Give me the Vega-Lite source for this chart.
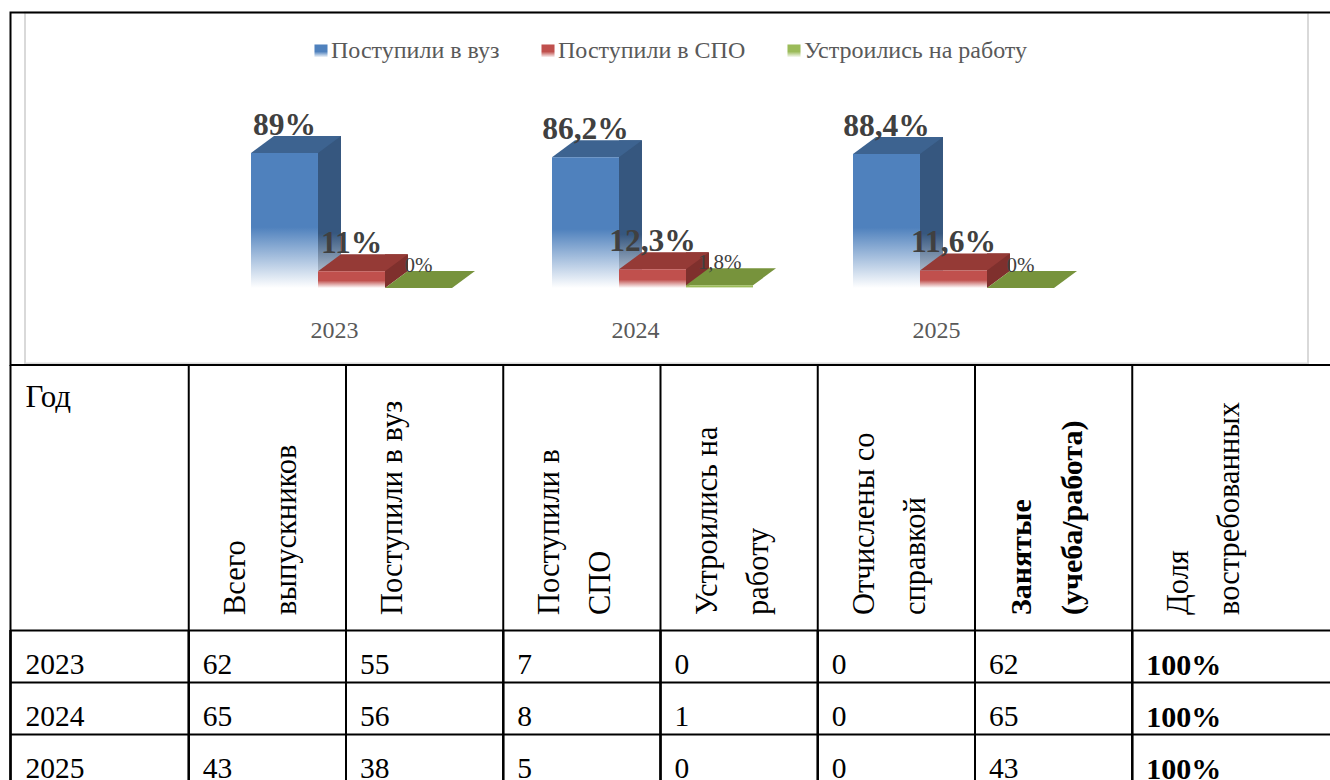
{
"$schema":"https://vega.github.io/schema/vega-lite/v6.json",
"background":"white","padding":0,"spacing":0,"bounds":"flush",
"config":{"view":{"stroke":null},"font":"Liberation Serif"},
"datasets":{
"chart":[
{"year":"2023","series":"Поступили в вуз","value":89,"label":"89%"},
{"year":"2023","series":"Поступили в СПО","value":11,"label":"11%"},
{"year":"2023","series":"Устроились на работу","value":0,"label":"0%"},
{"year":"2024","series":"Поступили в вуз","value":86.2,"label":"86,2%"},
{"year":"2024","series":"Поступили в СПО","value":12.3,"label":"12,3%"},
{"year":"2024","series":"Устроились на работу","value":1.8,"label":"1,8%"},
{"year":"2025","series":"Поступили в вуз","value":88.4,"label":"88,4%"},
{"year":"2025","series":"Поступили в СПО","value":11.6,"label":"11,6%"},
{"year":"2025","series":"Устроились на работу","value":0,"label":"0%"}],
"frame":[{"a":0,"b":1}],
"hlines":[{"row":"2023","a":0,"b":1},{"row":"2024","a":0,"b":1},{"row":"2025","a":0,"b":1}],
"head":[
{"col":"Год","label":"Год"},
{"col":"Всего выпускников","label":"Всего\nвыпускников"},
{"col":"Поступили в вуз","label":"Поступили в вуз"},
{"col":"Поступили в СПО","label":"Поступили в\nСПО"},
{"col":"Устроились на работу","label":"Устроились на\nработу"},
{"col":"Отчислены со справкой","label":"Отчислены со\nсправкой"},
{"col":"Занятые (учеба/работа)","label":"Занятые\n(учеба/работа)"},
{"col":"Доля востребованных","label":"Доля\nвостребованных"}],
"rows":[
{"row":"2023","col":"Год","v":"2023"},{"row":"2023","col":"Всего выпускников","v":"62"},{"row":"2023","col":"Поступили в вуз","v":"55"},{"row":"2023","col":"Поступили в СПО","v":"7"},{"row":"2023","col":"Устроились на работу","v":"0"},{"row":"2023","col":"Отчислены со справкой","v":"0"},{"row":"2023","col":"Занятые (учеба/работа)","v":"62"},{"row":"2023","col":"Доля востребованных","v":"100%"},
{"row":"2024","col":"Год","v":"2024"},{"row":"2024","col":"Всего выпускников","v":"65"},{"row":"2024","col":"Поступили в вуз","v":"56"},{"row":"2024","col":"Поступили в СПО","v":"8"},{"row":"2024","col":"Устроились на работу","v":"1"},{"row":"2024","col":"Отчислены со справкой","v":"0"},{"row":"2024","col":"Занятые (учеба/работа)","v":"65"},{"row":"2024","col":"Доля востребованных","v":"100%"},
{"row":"2025","col":"Год","v":"2025"},{"row":"2025","col":"Всего выпускников","v":"43"},{"row":"2025","col":"Поступили в вуз","v":"38"},{"row":"2025","col":"Поступили в СПО","v":"5"},{"row":"2025","col":"Устроились на работу","v":"0"},{"row":"2025","col":"Отчислены со справкой","v":"0"},{"row":"2025","col":"Занятые (учеба/работа)","v":"43"},{"row":"2025","col":"Доля востребованных","v":"100%"}]
},
"vconcat":[
{"width":1330,"height":365,
"resolve":{"scale":{"x":"independent","y":"independent"}},
"layer":[
{"data":{"name":"frame"},"mark":{"type":"rect","fillOpacity":0,"stroke":"#d9d9d9","strokeWidth":2},
"encoding":{"x":{"field":"a","type":"quantitative","axis":null,"scale":{"domain":[0,1],"range":[25,1308]}},"x2":{"field":"b"},
"y":{"field":"a","type":"quantitative","axis":null,"scale":{"domain":[0,1],"range":[363.5,12.5]}},"y2":{"field":"b"}}},
{"data":{"name":"frame"},"mark":{"type":"rect","fillOpacity":0,"stroke":"#000000","strokeWidth":2},
"encoding":{"x":{"field":"a","type":"quantitative","axis":null,"scale":{"domain":[0,1],"range":[10.5,1350]}},"x2":{"field":"b"},
"y":{"field":"a","type":"quantitative","axis":null,"scale":{"domain":[0,1],"range":[365,12.5]}},"y2":{"field":"b"}}},
{"data":{"name":"chart"},
"resolve":{"scale":{"xOffset":"independent"}},
"encoding":{
"x":{"field":"year","type":"nominal","axis":null,"scale":{"type":"band","domain":["2023","2024","2025"],"range":[201,1104],"paddingInner":0.3322,"paddingOuter":0.1661}},
"y":{"field":"value","type":"quantitative","axis":null,"scale":{"domain":[0,100],"range":[288,136.3]}}},
"layer":[
{"transform":[{"filter":"datum.series !== 'Устроились на работу'"}],
"mark":{"type":"bar","width":23,"yOffset":-17,
"fill":{"expr":"datum.series === 'Поступили в вуз' ? {gradient:'linear',x1:0,y1:0,x2:0,y2:1,stops:[{offset:0,color:'#36577f'},{offset:0.72,color:'#36577f'},{offset:1,color:'#aab8c9'}]} : '#7f302d'"}},
"encoding":{"xOffset":{"field":"series","type":"nominal","scale":{"type":"band","domain":["Поступили в вуз","Поступили в СПО","Устроились на работу"],"range":[45,246],"paddingInner":0,"paddingOuter":0}}}},
{"transform":[{"filter":"datum.series === 'Поступили в СПО'"}],
"mark":{"type":"point","filled":true,"opacity":1,"size":4,"shape":"M33.5 0L56.5 -17L33.5 -17Z","fill":"#7f302d"},
"encoding":{"y":{"datum":0,"type":"quantitative"},"xOffset":{"field":"series","type":"nominal","scale":{"type":"band","domain":["Поступили в вуз","Поступили в СПО","Устроились на работу"],"paddingInner":0,"paddingOuter":0}}}},
{"mark":{"type":"point","filled":true,"opacity":1,"size":4,"shape":"M-33.5 0L33.5 0L56.5 -17L-10.5 -17Z",
"fill":{"expr":"datum.series === 'Поступили в вуз' ? '#3d6390' : datum.series === 'Поступили в СПО' ? '#953a36' : '#77933c'"}},
"encoding":{"xOffset":{"field":"series","type":"nominal","scale":{"type":"band","domain":["Поступили в вуз","Поступили в СПО","Устроились на работу"],"paddingInner":0,"paddingOuter":0}}}},
{"mark":{"type":"bar","strokeWidth":0,
"fill":{"expr":"(datum.series || datum.label) === 'Поступили в вуз' ? {gradient:'linear',x1:0,y1:0,x2:0,y2:1,stops:[{offset:0,color:'#4f81bd'},{offset:0.55,color:'#4f81bd'},{offset:1,color:'#ffffff'}]} : (datum.series || datum.label) === 'Поступили в СПО' ? {gradient:'linear',x1:0,y1:0,x2:0,y2:1,stops:[{offset:0,color:'#c0504d'},{offset:0.55,color:'#c0504d'},{offset:1,color:'#ffffff'}]} : {gradient:'linear',x1:0,y1:0,x2:0,y2:1,stops:[{offset:0,color:'#9bbb59'},{offset:0.55,color:'#9bbb59'},{offset:1,color:'#ffffff'}]}"}},
"encoding":{"xOffset":{"field":"series","type":"nominal","scale":{"type":"band","domain":["Поступили в вуз","Поступили в СПО","Устроились на работу"],"paddingInner":0,"paddingOuter":0}},
"stroke":{"field":"series","type":"nominal",
"scale":{"domain":["Поступили в вуз","Поступили в СПО","Устроились на работу"],"range":["#4f81bd","#c0504d","#9bbb59"]},
"legend":{"title":null,"orient":"none","legendX":309,"legendY":39,"direction":"horizontal","columns":3,"symbolType":"square","symbolSize":170,"symbolStrokeWidth":0,"labelFont":"Liberation Serif","labelFontSize":24,"labelColor":"#595959","labelOffset":-2,"columnPadding":36,"labelLimit":400}}}},
{"transform":[{"filter":"datum.series !== 'Устроились на работу'"}],
"mark":{"type":"text","font":"Liberation Serif","fontSize":31.5,"fontWeight":"bold","color":"#404040","dy":-18,"baseline":"alphabetic","align":"center"},
"encoding":{"xOffset":{"field":"series","type":"nominal","scale":{"type":"band","domain":["Поступили в вуз","Поступили в СПО","Устроились на работу"],"paddingInner":0,"paddingOuter":0}},"text":{"field":"label"}}},
{"transform":[{"filter":"datum.series === 'Устроились на работу'"}],
"mark":{"type":"text","font":"Liberation Serif","fontSize":21,"color":"#404040","dy":-16.5,"baseline":"alphabetic","align":"center"},
"encoding":{"xOffset":{"field":"series","type":"nominal","scale":{"type":"band","domain":["Поступили в вуз","Поступили в СПО","Устроились на работу"],"paddingInner":0,"paddingOuter":0}},"text":{"field":"label"}}},
{"transform":[{"filter":"datum.series === 'Поступили в вуз'"}],
"mark":{"type":"text","font":"Liberation Serif","fontSize":24,"color":"#595959","dx":-17,"dy":50,"baseline":"alphabetic","align":"center"},
"encoding":{"y":{"datum":0,"type":"quantitative"},"text":{"field":"year"}}}
]}
]},
{"width":1330,"height":265,"data":{"name":"head"},
"encoding":{"x":{"field":"col","type":"nominal","bandPosition":0,"axis":null,"sort":null,"scale":{"type":"band","domain":["Год","Всего выпускников","Поступили в вуз","Поступили в СПО","Устроились на работу","Отчислены со справкой","Занятые (учеба/работа)","Доля востребованных"],"range":[31.5,1289.5],"padding":0}}},
"layer":[
{"transform":[{"filter":"datum.col !== 'Год'"}],"mark":{"type":"rule","color":"#000000","strokeWidth":2}},
{"transform":[{"filter":"datum.col === 'Год'"}],"mark":{"type":"rule","color":"#000000","strokeWidth":2,"xOffset":-21}},
{"transform":[{"filter":"datum.col === 'Год'"}],"mark":{"type":"text","font":"Liberation Serif","fontSize":31,"color":"#000000","align":"left","baseline":"alphabetic","dx":-6,"dy":42},
"encoding":{"y":{"datum":1,"type":"quantitative","axis":null,"scale":{"domain":[0,1]}},"text":{"field":"label"}}},
{"transform":[{"filter":"datum.col !== 'Год' && datum.col !== 'Занятые (учеба/работа)'"}],"mark":{"type":"text","font":"Liberation Serif","fontSize":30.5,"color":"#000000","angle":270,"align":"left","baseline":"alphabetic","dx":15,"dy":56,"lineBreak":"\n","lineHeight":51},
"encoding":{"y":{"datum":0,"type":"quantitative","axis":null,"scale":{"domain":[0,1]}},"text":{"field":"label"}}},
{"transform":[{"filter":"datum.col === 'Занятые (учеба/работа)'"}],"mark":{"type":"text","font":"Liberation Serif","fontSize":30,"fontWeight":"bold","color":"#000000","angle":270,"align":"left","baseline":"alphabetic","dx":15,"dy":56,"lineBreak":"\n","lineHeight":51},
"encoding":{"y":{"datum":0,"type":"quantitative","axis":null,"scale":{"domain":[0,1]}},"text":{"field":"label"}}}
]},
{"width":1330,"height":150,
"resolve":{"scale":{"x":"independent"}},
"layer":[
{"data":{"name":"rows"},"layer":[
{"transform":[{"filter":"datum.col !== 'Год'"}],"mark":{"type":"rule","color":"#000000","strokeWidth":2}},
{"transform":[{"filter":"datum.col === 'Год'"}],"mark":{"type":"rule","color":"#000000","strokeWidth":2,"xOffset":-21}},
{"transform":[{"filter":"datum.col === 'Год'"}],"mark":{"type":"text","font":"Liberation Serif","fontSize":29.5,"color":"#000000","align":"left","baseline":"alphabetic","dx":-6,"dy":17},
"encoding":{"y":{"field":"row","type":"ordinal","axis":null,"scale":{"type":"band","domain":["2023","2024","2025"],"range":[0.5,156.5],"padding":0}},"text":{"field":"v"}}},
{"transform":[{"filter":"datum.col !== 'Год' && datum.col !== 'Доля востребованных'"}],"mark":{"type":"text","font":"Liberation Serif","fontSize":29.5,"color":"#000000","align":"left","baseline":"alphabetic","dx":14,"dy":17},
"encoding":{"y":{"field":"row","type":"ordinal","axis":null},"text":{"field":"v"}}},
{"transform":[{"filter":"datum.col === 'Доля востребованных'"}],"mark":{"type":"text","font":"Liberation Serif","fontSize":30,"fontWeight":"bold","color":"#000000","align":"left","baseline":"alphabetic","dx":14,"dy":18},
"encoding":{"y":{"field":"row","type":"ordinal","axis":null},"text":{"field":"v"}}}
],
"encoding":{"x":{"field":"col","type":"nominal","bandPosition":0,"axis":null,"sort":null,"scale":{"type":"band","domain":["Год","Всего выпускников","Поступили в вуз","Поступили в СПО","Устроились на работу","Отчислены со справкой","Занятые (учеба/работа)","Доля востребованных"],"range":[31.5,1289.5],"padding":0}}}},
{"data":{"name":"hlines"},"mark":{"type":"rule","color":"#000000","strokeWidth":2},
"encoding":{"x":{"field":"a","type":"quantitative","axis":null,"scale":{"domain":[0,1],"range":[10,1340]}},"x2":{"field":"b"},"y":{"field":"row","type":"ordinal","bandPosition":0,"axis":null,"scale":{"type":"band","domain":["2023","2024","2025"],"range":[0.5,156.5],"padding":0}}}}
]}
]}
